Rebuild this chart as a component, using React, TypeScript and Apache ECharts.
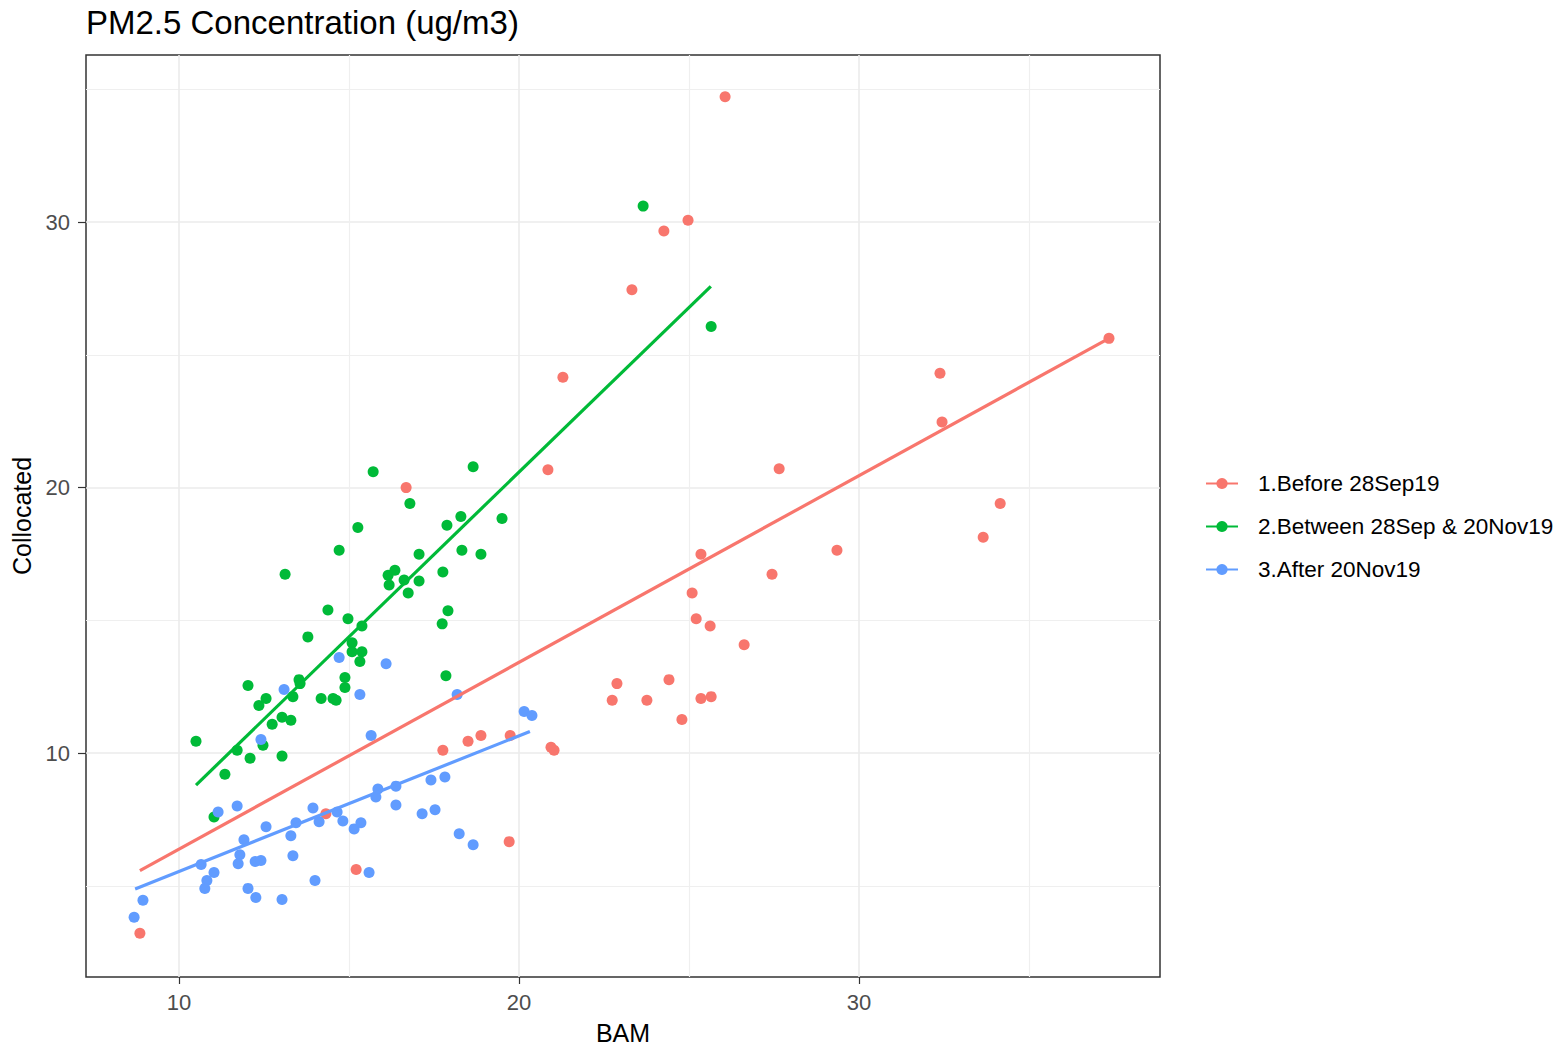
import React, { useEffect, useRef } from "react";
import * as echarts from "echarts";

const groupNames = ["1.Before 28Sep19", "2.Between 28Sep & 20Nov19", "3.After 20Nov19"];
const groupColors = ["#F8766D", "#00BA38", "#619CFF"];

const redX = [8.85, 26.06, 24.97, 24.26, 23.32, 21.29, 20.85, 16.68, 37.35, 32.38, 32.44, 27.65, 34.15, 29.35, 33.65, 25.35, 27.44, 25.09, 25.21, 25.62, 26.62, 22.88, 24.41, 22.74, 23.76, 25.35, 25.65, 24.79, 19.74, 18.88, 18.5, 17.76, 20.94, 21.03, 19.71, 15.21, 14.32];
const redY = [3.22, 34.72, 30.07, 29.66, 27.45, 24.16, 20.67, 20.0, 25.62, 24.31, 22.47, 20.71, 19.4, 17.64, 18.13, 17.49, 16.74, 16.03, 15.06, 14.79, 14.08, 12.62, 12.77, 11.99, 11.99, 12.06, 12.13, 11.27, 10.67, 10.67, 10.45, 10.11, 10.22, 10.11, 6.67, 5.62, 7.72];

const greenX = [15.71, 18.65, 16.79, 18.29, 19.5, 17.88, 15.26, 14.71, 18.32, 18.88, 17.06, 13.12, 17.76, 16.15, 16.35, 16.18, 16.62, 17.06, 16.74, 14.38, 14.97, 15.38, 17.91, 17.74, 13.79, 15.09, 15.09, 15.38, 15.32, 17.85, 12.03, 13.53, 13.56, 14.88, 14.88, 12.56, 12.35, 13.35, 14.18, 14.53, 14.62, 13.03, 12.74, 13.29, 11.71, 12.47, 12.09, 13.03, 11.35, 10.5, 11.03, 25.65, 23.65];
const greenY = [20.6, 20.79, 19.4, 18.91, 18.84, 18.58, 18.5, 17.64, 17.64, 17.49, 17.49, 16.74, 16.82, 16.7, 16.89, 16.33, 16.52, 16.48, 16.03, 15.39, 15.06, 14.79, 15.36, 14.87, 14.38, 14.16, 13.82, 13.82, 13.45, 12.92, 12.55, 12.77, 12.62, 12.85, 12.47, 12.06, 11.8, 12.13, 12.06, 12.06, 11.99, 11.35, 11.09, 11.24, 10.11, 10.3, 9.81, 9.89, 9.21, 10.45, 7.6, 26.07, 30.6];

const blueX = [14.71, 16.09, 15.32, 13.09, 12.41, 15.65, 11.15, 11.71, 15.85, 15.79, 13.94, 14.65, 14.12, 14.82, 15.15, 15.35, 12.56, 11.91, 13.29, 10.65, 11.03, 10.82, 10.76, 11.79, 11.74, 12.24, 12.41, 13.35, 12.03, 12.26, 13.03, 14.0, 15.59, 8.94, 8.68, 18.18, 20.15, 20.38, 17.41, 17.82, 16.38, 16.38, 17.15, 17.53, 18.24, 18.65, 13.44];
const blueY = [13.6, 13.37, 12.21, 12.4, 10.52, 10.67, 7.79, 8.01, 8.65, 8.35, 7.94, 7.79, 7.42, 7.45, 7.15, 7.38, 7.23, 6.74, 6.89, 5.81, 5.51, 5.21, 4.91, 6.18, 5.84, 5.92, 5.96, 6.14, 4.91, 4.57, 4.49, 5.21, 5.51, 4.46, 3.82, 12.21, 11.57, 11.42, 8.99, 9.1, 8.05, 8.76, 7.72, 7.87, 6.97, 6.55, 7.38];

// fitted lines: start and end
const redFitX = [8.85, 37.35];
const redFitY = [5.58, 25.62];
const greenFitX = [10.5, 25.64];
const greenFitY = [8.8, 27.58];
const blueFitX = [8.71, 20.32];
const blueFitY = [4.89, 10.82];

const xMajorTicks = [10, 20, 30];
const xMinorTicks = [15, 25, 35];
const yMajorTicks = [10, 20, 30];
const yMinorTicks = [5, 15, 25, 35];

const xMin = 7.265;
const xMax = 38.85;
const yMin = 1.573;
const yMax = 36.29;

const FONT = "'Liberation Sans', Arial, Helvetica, sans-serif";

const zip = (xs: number[], ys: number[]) => xs.map((x, i) => [x, ys[i]]);

export default function App() {
  const ref = useRef<HTMLDivElement>(null);

  useEffect(() => {
    if (!ref.current) return;
    const chart = echarts.init(ref.current, undefined, { renderer: "svg" });

    const pointSets = [zip(redX, redY), zip(greenX, greenY), zip(blueX, blueY)];
    const fitSets = [zip(redFitX, redFitY), zip(greenFitX, greenFitY), zip(blueFitX, blueFitY)];

    const lineSeries = fitSets.map((d, i) => ({
      type: "line",
      name: groupNames[i],
      data: d,
      xAxisIndex: 0,
      yAxisIndex: 0,
      symbol: "circle",
      symbolSize: 8,
      showSymbol: false,
      lineStyle: { color: groupColors[i], width: 3.2 },
      itemStyle: { color: groupColors[i] },
      z: 4,
      silent: true,
    }));
    const scatterSeries = pointSets.map((d, i) => ({
      type: "scatter",
      name: groupNames[i],
      data: d,
      xAxisIndex: 0,
      yAxisIndex: 0,
      symbol: "circle",
      symbolSize: 11,
      itemStyle: { color: groupColors[i], opacity: 1 },
      z: 3,
      silent: true,
    }));

    chart.setOption({
      animation: false,
      backgroundColor: "#ffffff",
      textStyle: { fontFamily: FONT },
      title: {
        text: "PM2.5 Concentration (ug/m3)",
        left: 86,
        top: 6,
        padding: 0,
        textStyle: { fontSize: 33, fontWeight: "normal", color: "#000000", fontFamily: FONT },
      },
      legend: {
        data: groupNames,
        orient: "vertical",
        left: 1205,
        top: 472,
        padding: 0,
        itemWidth: 32,
        itemHeight: 14,
        itemGap: 20,
        selectedMode: false,
        textStyle: { fontSize: 22.5, color: "#000000", fontFamily: FONT, padding: [0, 0, 0, 15], lineHeight: 23 },
      },
      grid: {
        left: 86,
        top: 55,
        width: 1074,
        height: 927,
        show: true,
        borderColor: "#333333",
        borderWidth: 1.5,
        backgroundColor: "transparent",
      },
      xAxis: [
        {
          type: "value",
          min: xMin,
          max: xMax,
          position: "bottom",
          name: "BAM",
          nameLocation: "middle",
          nameGap: 43,
          nameTextStyle: { fontSize: 25, color: "#000000", fontFamily: FONT },
          axisLine: { show: false },
          axisTick: { show: true, length: 7, lineStyle: { color: "#333333", width: 1.2 }, customValues: xMajorTicks },
          axisLabel: { customValues: xMajorTicks, fontSize: 22, color: "#4D4D4D", margin: 14, fontFamily: FONT },
          splitLine: { show: true, lineStyle: { color: "#EBEBEB", width: 1.6 } },
        },
        {
          type: "value",
          min: xMin,
          max: xMax,
          position: "top",
          axisLine: { show: false },
          axisTick: { show: false, customValues: xMinorTicks },
          axisLabel: { show: false, customValues: xMinorTicks },
          splitLine: { show: true, lineStyle: { color: "#EFEFEF", width: 1.2 } },
        },
      ],
      yAxis: [
        {
          type: "value",
          min: yMin,
          max: yMax,
          position: "left",
          name: "Collocated",
          nameLocation: "middle",
          nameGap: 47,
          nameTextStyle: { fontSize: 25, color: "#000000", fontFamily: FONT },
          axisLine: { show: false },
          axisTick: { show: true, length: 8, lineStyle: { color: "#333333", width: 1.2 }, customValues: yMajorTicks },
          axisLabel: { customValues: yMajorTicks, fontSize: 22, color: "#4D4D4D", margin: 16, fontFamily: FONT },
          splitLine: { show: true, lineStyle: { color: "#EBEBEB", width: 1.6 } },
        },
        {
          type: "value",
          min: yMin,
          max: yMax,
          position: "right",
          axisLine: { show: false },
          axisTick: { show: false, customValues: yMinorTicks },
          axisLabel: { show: false, customValues: yMinorTicks },
          splitLine: { show: true, lineStyle: { color: "#EFEFEF", width: 1.2 } },
        },
      ],
      series: [...lineSeries, ...scatterSeries],
    });

    return () => chart.dispose();
  }, []);

  return (
    <div
      ref={ref}
      style={{ position: "fixed", left: 0, top: 0, width: 1559, height: 1050, background: "#fff" }}
    />
  );
}
